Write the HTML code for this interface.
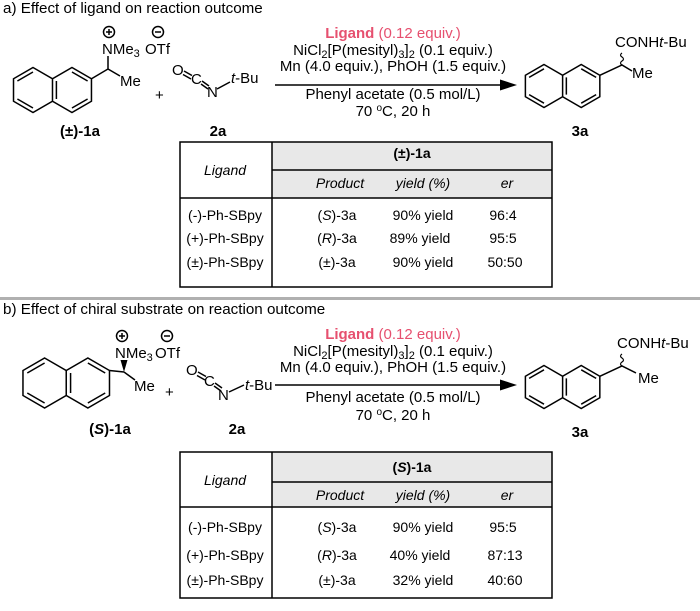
<!DOCTYPE html>
<html><head><meta charset="utf-8"><style>
html,body{margin:0;padding:0;background:#fff;}
svg{display:block;font-family:"Liberation Sans",Arial,sans-serif;}
</style></head><body>
<svg width="700" height="611" viewBox="0 0 700 611" xmlns="http://www.w3.org/2000/svg">
<defs>
<g id="naph" fill="none" stroke="#000" stroke-width="1.5">
<path vector-effect="non-scaling-stroke" d="M0,-22.5 L19.49,-11.25 L38.97,-22.5 L58.46,-11.25 L58.46,11.25 L38.97,22.5 L19.49,11.25 L0,22.5 L-19.49,11.25 L-19.49,-11.25 Z M19.49,-11.25 L19.49,11.25"/>
<path vector-effect="non-scaling-stroke" d="M0,-18 L-15.6,-9 M-15.6,9 L0,18 M23.4,-9 L23.4,9 M38.97,-18 L54.6,-9 M54.6,9 L38.97,18"/>
</g>
</defs>
<g font-size="15" fill="#000">
<!-- Section a -->
<text x="3" y="13" font-size="15.2">a) Effect of ligand on reaction outcome</text>
<use href="#naph" transform="translate(33,90)"/>
<g stroke="#000" stroke-width="1.5" fill="none">
<path d="M91.5,78.75 L108,69 L108,56 M108,69 L120,76"/>
<circle cx="109" cy="32" r="5.5"/><path d="M106,32 h6 M109,29 v6"/>
<circle cx="158" cy="32" r="5.5"/><path d="M155,32 h6"/>
<path d="M184,71 L192,75.5 M183,74.5 L191,79 M202,81 L209,86 M201,84 L208,89 M217,89 L230,82"/>
<path d="M275,85 L505,85"/>
<path d="M599.8,75.3 L622,65 L632,71"/>
<path d="M622,65 q-3,-2 0,-4 q3,-2 0,-4 q-3,-2 0,-4" stroke-width="1.2"/>
</g>
<path d="M517,85 L500,79.5 L500,90.5 Z"/>
<text x="102" y="54">NMe<tspan font-size="11" dy="3">3</tspan></text>
<text x="145" y="54">OTf</text>
<text x="120" y="86">Me</text>
<text x="155" y="100">+</text>
<text x="172" y="75">O</text>
<text x="191" y="84">C</text>
<text x="207" y="97">N</text>
<text x="231" y="83"><tspan font-style="italic">t</tspan>-Bu</text>
<text x="80" y="136" text-anchor="middle" font-weight="bold">(±)-1a</text>
<text x="218" y="136" text-anchor="middle" font-weight="bold">2a</text>
<text x="393" y="38" text-anchor="middle" fill="#e6506f"><tspan font-weight="bold">Ligand</tspan> (0.12 equiv.)</text>
<text x="393" y="55" text-anchor="middle">NiCl<tspan font-size="11" dy="3">2</tspan><tspan dy="-3">[P(mesityl)</tspan><tspan font-size="11" dy="3">3</tspan><tspan dy="-3">]</tspan><tspan font-size="11" dy="3">2</tspan><tspan dy="-3"> (0.1 equiv.)</tspan></text>
<text x="393" y="71" text-anchor="middle">Mn (4.0 equiv.), PhOH (1.5 equiv.)</text>
<text x="393" y="99" text-anchor="middle">Phenyl acetate (0.5 mol/L)</text>
<text x="393" y="116" text-anchor="middle">70 <tspan font-size="10" dy="-5">o</tspan><tspan dy="5">C, 20 h</tspan></text>
<use href="#naph" transform="translate(544,86) scale(0.955)"/>
<text x="615" y="47">CONH<tspan font-style="italic">t</tspan>-Bu</text>
<text x="632" y="78">Me</text>
<text x="580" y="136" text-anchor="middle" font-weight="bold">3a</text>

<!-- table a -->
<g font-size="14">
<rect x="272" y="142" width="280" height="56" fill="#e8e8e8"/>
<g stroke="#000" stroke-width="1.5" fill="none">
<rect x="180" y="142" width="372" height="145"/>
<path d="M272,142 V287 M272,170 H552 M180,198 H552"/>
</g>
<text x="225" y="175" text-anchor="middle" font-style="italic">Ligand</text>
<text x="412" y="158" text-anchor="middle" font-weight="bold">(±)-1a</text>
<text x="340" y="188" text-anchor="middle" font-style="italic">Product</text>
<text x="423" y="188" text-anchor="middle" font-style="italic">yield (%)</text>
<text x="507" y="188" text-anchor="middle" font-style="italic">er</text>
<g text-anchor="middle">
<text x="225" y="220">(-)-Ph-SBpy</text><text x="337" y="220">(<tspan font-style="italic">S</tspan>)-3a</text><text x="423" y="220">90% yield</text><text x="503" y="220">96:4</text>
<text x="225" y="243">(+)-Ph-SBpy</text><text x="337" y="243">(<tspan font-style="italic">R</tspan>)-3a</text><text x="420" y="243">89% yield</text><text x="503" y="243">95:5</text>
<text x="225" y="267">(±)-Ph-SBpy</text><text x="337" y="267">(±)-3a</text><text x="423" y="267">90% yield</text><text x="505" y="267">50:50</text>
</g>
</g>
<rect x="0" y="297" width="700" height="3" fill="#b0b0b0"/>

<!-- Section b -->
<text x="3" y="314" font-size="15.2">b) Effect of chiral substrate on reaction outcome</text>
<use href="#naph" transform="translate(44.6,383) scale(1.11)"/>
<g stroke="#000" stroke-width="1.5" fill="none">
<path d="M109.5,370.5 L124,372 M124,372 L135,380"/>
<circle cx="122" cy="336" r="5.5"/><path d="M119,336 h6 M122,333 v6"/>
<circle cx="167" cy="336" r="5.5"/><path d="M164,336 h6"/>
<path d="M198,372 L206,376.5 M197,375.5 L205,380 M215,383 L222,388 M214,386 L221,391 M229,392 L244,385"/>
<path d="M275,385 L505,385"/>
<path d="M599.8,376.3 L622,366 L636,373"/>
<path d="M622,366 q-3,-2 0,-4 q3,-2 0,-4 q-3,-2 0,-4" stroke-width="1.2"/>
</g>
<path d="M124,372 L120.5,360 L127.5,360 Z"/>
<path d="M517,385 L500,379.5 L500,390.5 Z"/>
<text x="115" y="358">NMe<tspan font-size="11" dy="3">3</tspan></text>
<text x="155" y="358">OTf</text>
<text x="134" y="391">Me</text>
<text x="165" y="397">+</text>
<text x="186" y="375">O</text>
<text x="204" y="386">C</text>
<text x="218" y="400">N</text>
<text x="245" y="390"><tspan font-style="italic">t</tspan>-Bu</text>
<text x="110" y="434" text-anchor="middle" font-weight="bold">(<tspan font-style="italic">S</tspan>)-1a</text>
<text x="237" y="434" text-anchor="middle" font-weight="bold">2a</text>
<text x="393" y="339" text-anchor="middle" fill="#e6506f"><tspan font-weight="bold">Ligand</tspan> (0.12 equiv.)</text>
<text x="393" y="356" text-anchor="middle">NiCl<tspan font-size="11" dy="3">2</tspan><tspan dy="-3">[P(mesityl)</tspan><tspan font-size="11" dy="3">3</tspan><tspan dy="-3">]</tspan><tspan font-size="11" dy="3">2</tspan><tspan dy="-3"> (0.1 equiv.)</tspan></text>
<text x="393" y="372" text-anchor="middle">Mn (4.0 equiv.), PhOH (1.5 equiv.)</text>
<text x="393" y="402" text-anchor="middle">Phenyl acetate (0.5 mol/L)</text>
<text x="393" y="420" text-anchor="middle">70 <tspan font-size="10" dy="-5">o</tspan><tspan dy="5">C, 20 h</tspan></text>
<use href="#naph" transform="translate(544,387) scale(0.955)"/>
<text x="617" y="348">CONH<tspan font-style="italic">t</tspan>-Bu</text>
<text x="638" y="383">Me</text>
<text x="580" y="437" text-anchor="middle" font-weight="bold">3a</text>

<!-- table b -->
<g font-size="14">
<rect x="272" y="452" width="280" height="55" fill="#e8e8e8"/>
<g stroke="#000" stroke-width="1.5" fill="none">
<rect x="180" y="452" width="372" height="146"/>
<path d="M272,452 V598 M272,482 H552 M180,507 H552"/>
</g>
<text x="225" y="485" text-anchor="middle" font-style="italic">Ligand</text>
<text x="412" y="472" text-anchor="middle" font-weight="bold">(<tspan font-style="italic">S</tspan>)-1a</text>
<text x="340" y="500" text-anchor="middle" font-style="italic">Product</text>
<text x="423" y="500" text-anchor="middle" font-style="italic">yield (%)</text>
<text x="507" y="500" text-anchor="middle" font-style="italic">er</text>
<g text-anchor="middle">
<text x="225" y="532">(-)-Ph-SBpy</text><text x="337" y="532">(<tspan font-style="italic">S</tspan>)-3a</text><text x="423" y="532">90% yield</text><text x="503" y="532">95:5</text>
<text x="225" y="560">(+)-Ph-SBpy</text><text x="337" y="560">(<tspan font-style="italic">R</tspan>)-3a</text><text x="420" y="560">40% yield</text><text x="505" y="560">87:13</text>
<text x="225" y="585">(±)-Ph-SBpy</text><text x="337" y="585">(±)-3a</text><text x="423" y="585">32% yield</text><text x="505" y="585">40:60</text>
</g>
</g>
</g>
</svg>
</body></html>
